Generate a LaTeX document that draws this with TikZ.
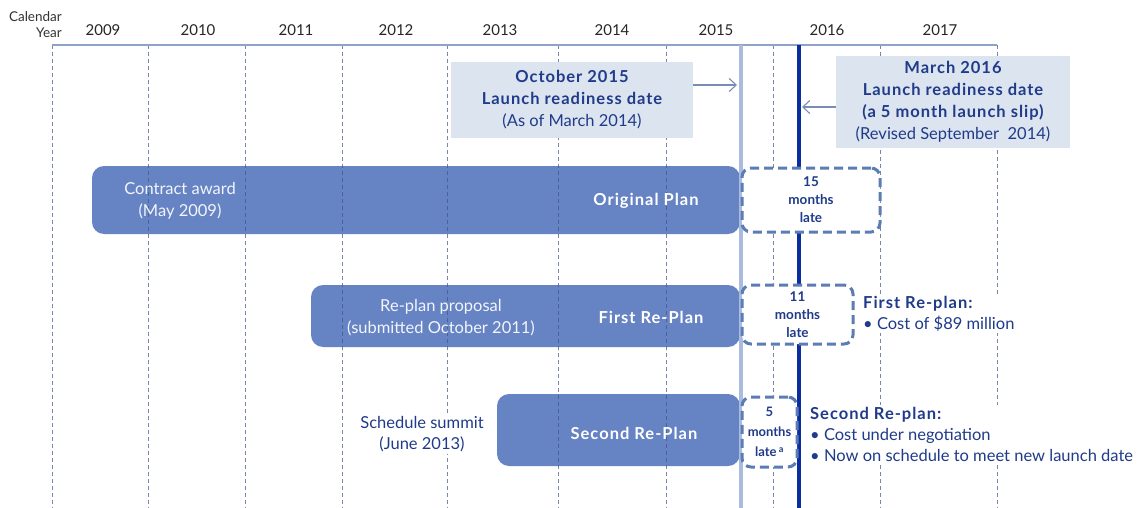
\documentclass[tikz,border=0pt]{standalone}
\usepackage{fontspec}
\setmainfont{Lato}
\usetikzlibrary{arrows.meta}
\definecolor{navy}{HTML}{1F3B8A}
\definecolor{barfill}{HTML}{6683C4}
\definecolor{dashcol}{HTML}{5B7CB5}
\definecolor{lightbox}{HTML}{DCE4EF}
\definecolor{gridcol}{HTML}{3E5487}
\definecolor{axiscol}{HTML}{8FA3C8}
\definecolor{lightline}{HTML}{A9BCDD}
\definecolor{darkline}{HTML}{0B2E9E}
\definecolor{arrowcol}{HTML}{7A8DB5}
\newcommand\bwide[1]{{\bfseries\addfontfeatures{LetterSpace=6}#1}}
\tikzset{
  gridline/.style={gridcol, line width=0.8pt, dash pattern=on 4pt off 3pt, opacity=0.7},
  yearlab/.style={font=\fontsize{15}{18}\selectfont, text=black!85, inner sep=0pt},
  barbox/.style={fill=barfill, draw=none, rounded corners=12pt, inner sep=0pt},
  bartxt/.style={font=\fontsize{16.5}{22}\selectfont, text=white!92!barfill, inner sep=0pt, align=center},
  barbold/.style={font=\fontsize{16.5}{22}\selectfont, text=white, inner sep=0pt},
  latebox/.style={draw=dashcol, fill=white, line width=3pt, dash pattern=on 9pt off 5pt, rounded corners=9pt, inner sep=0pt, align=center, text=navy, font=\bfseries\fontsize{13.5}{18}\selectfont},
  infobox/.style={fill=lightbox, inner sep=0pt, align=center, text=navy, font=\fontsize{16.5}{22}\selectfont},
  note/.style={fill=white, inner sep=2pt, align=left, text=navy, font=\fontsize{16.5}{21}\selectfont},
  pointer/.style={arrowcol, line width=1.1pt, -{Straight Barb[length=7pt,width=13pt]}},
}
\begin{document}
\begin{tikzpicture}[x=1pt,y=-1pt]
\useasboundingbox (0,0) rectangle (1140,508);
\fill[white] (0,0) rectangle (1140,508);

% axis labels
\node[anchor=east, align=right, inner sep=0pt, text=black!80, font=\fontsize{13.5}{16}\selectfont] (calyear) at (62,25) {Calendar\\Year};
\node[yearlab] (y2009) at (103,30) {2009};
\node[yearlab] (y2010) at (198,30) {2010};
\node[yearlab] (y2011) at (296,30) {2011};
\node[yearlab] (y2012) at (396,30) {2012};
\node[yearlab] (y2013) at (500,30) {2013};
\node[yearlab] (y2014) at (612,30) {2014};
\node[yearlab] (y2015) at (716,30) {2015};
\node[yearlab] (y2016) at (827,30) {2016};
\node[yearlab] (y2017) at (940,30) {2017};

% bars
\node[barbox, minimum width=648pt, minimum height=68pt] (orig) at (416,200) {};
\node[barbox, minimum width=429pt, minimum height=62pt] (first) at (525.5,316) {};
\node[barbox, minimum width=243pt, minimum height=72pt] (second) at (618.5,430) {};

% grid
\foreach \gx in {52,148,245,342,447,558,666,773,880,997}
  \draw[gridline] (\gx,45) -- (\gx,508);
\draw[axiscol, line width=1.6pt] (52,45) -- (997,45);

% bar texts
\node[bartxt] (award) at (180,201) {Contract award\\(May 2009)};
\node[barbold] (origlab) at (646,201) {\bwide{Original Plan}};
\node[bartxt] (proposal) at (441,318) {Re-plan proposal\\(submitted October 2011)};
\node[barbold] (firstlab) at (651,317) {\bwide{First Re-Plan}};
\node[barbold] (secondlab) at (634,433) {\bwide{Second Re-Plan}};

% launch lines
\coordinate (lightTop) at (741,45);
\coordinate (lightBot) at (741,508);
\coordinate (darkTop) at (799,45);
\coordinate (darkBot) at (799,508);
\draw[lightline, line width=4.5pt] (lightTop) -- (lightBot);
\draw[darkline, line width=4pt] (darkTop) -- (darkBot);

% info boxes
\node[infobox, minimum width=242pt, minimum height=76pt] (octbox) at (572,100)
  {\bwide{October 2015}\\\bwide{Launch readiness date}\\(As of March 2014)};
\node[infobox, minimum width=234pt, minimum height=92pt] (marbox) at (953,102)
  {\bwide{March 2016}\\\bwide{Launch readiness date}\\\bwide{(a 5 month launch slip)}\\(Revised September\ \ 2014)};
\coordinate (lightA) at (737,85);
\coordinate (darkA) at (802,107);
\draw[pointer] (octbox.east |- lightA) -- (lightA);
\draw[pointer] (marbox.west |- darkA) -- (darkA);

% late boxes
\node[latebox, minimum width=138pt, minimum height=64pt] (late15) at (811,200) {15\\months\\late};
\node[latebox, minimum width=111pt, minimum height=59pt] (late11) at (797.5,314.5) {11\\months\\late};
\node[latebox, minimum width=55pt, minimum height=70pt, font=\bfseries\fontsize{13}{20}\selectfont] (late5) at (769.5,432) {5\\months\\late\,\textsuperscript{a}};

% notes
\node[note, anchor=north west] (firstnote) at (861,294) {\bwide{First Re-plan:}\\\textbullet\ Cost of \$89 million};
\node[note, anchor=north west] (secondnote) at (808,405) {\bwide{Second Re-plan:}\\\textbullet\ Cost under negotiation\\\textbullet\ Now on schedule to meet new launch date};
\node[note, align=center] (summit) at (422,434) {Schedule summit\\(June 2013)};
\end{tikzpicture}
\end{document}
